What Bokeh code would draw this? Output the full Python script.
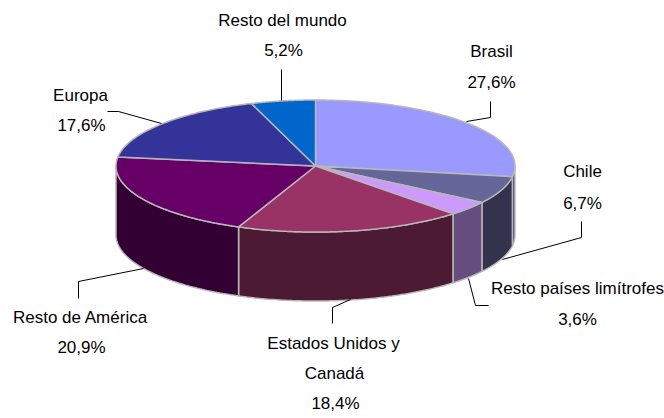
import numpy as np
from bokeh.plotting import figure
from bokeh.models import Range1d
from bokeh.core.properties import value
from bokeh.embed import file_html
from bokeh.resources import INLINE

categories = ["Brasil", "Chile", "Resto países limítrofes", "Estados Unidos y Canadá",
              "Resto de América", "Europa", "Resto del mundo"]
shares = [27.6, 6.7, 3.6, 18.4, 20.9, 17.6, 5.2]
top_colors = ["#9999FF", "#666699", "#CC99FF", "#993366", "#660066", "#333399", "#0066CC"]
side_colors = ["#4D4D80", "#33334D", "#664D80", "#4D1A33", "#330033", "#1A1A4D", "#003366"]

CX, CY, RX, RY, DEPTH = 315.0, 165.5, 199.5, 66.0, 69.0
EDGE = "#B8B8B8"
FONT = "Liberation Sans"
FS = "17px"

W, H = 664, 418
p = figure(width=W, height=H, x_range=Range1d(0, W), y_range=Range1d(H, 0),
           output_backend="svg", toolbar_location=None, min_border=0)
p.axis.visible = False
p.grid.visible = False
p.outline_line_color = None
p.background_fill_color = "white"


def pt(theta):
    return CX + RX * np.sin(theta), CY - RY * np.cos(theta)


bounds = np.cumsum([0] + shares) / 100 * 2 * np.pi

# side wall, only the part of the rim that faces the viewer
for i in range(len(shares)):
    a0 = max(bounds[i], np.pi / 2)
    a1 = min(bounds[i + 1], 3 * np.pi / 2)
    if a1 <= a0:
        continue
    t = np.linspace(a0, a1, 80)
    x, y = pt(t)
    xs = np.concatenate([x, x[::-1]])
    ys = np.concatenate([y, y[::-1] + DEPTH])
    p.patch(xs, ys, fill_color=side_colors[i], line_color=EDGE, line_width=1.5)

# top face
for i in range(len(shares)):
    t = np.linspace(bounds[i], bounds[i + 1], 80)
    x, y = pt(t)
    xs = np.concatenate([[CX], x])
    ys = np.concatenate([[CY], y])
    p.patch(xs, ys, fill_color=top_colors[i], line_color=EDGE, line_width=1.5)

# leader lines
leaders = {
    "Brasil": ([466, 490, 490], [121, 117, 101]),
    "Chile": ([502, 581, 581], [259, 237, 221]),
    "Resto países limítrofes": ([468, 475, 488], [278, 305, 305]),
    "Estados Unidos y Canadá": ([350, 332, 332], [299, 307, 323]),
    "Resto de América": ([143, 78, 78], [268, 281, 298]),
    "Europa": ([161, 118, 107], [123, 111, 111]),
    "Resto del mundo": ([281, 281], [100, 69]),
}
for c in categories:
    lx, ly = leaders[c]
    p.line(lx, ly, line_color="black", line_width=1)

label_pos = {
    "Brasil": [("Brasil", 491, 51), (None, 491, 82)],
    "Chile": [("Chile", 582, 171), (None, 582, 203)],
    "Resto países limítrofes": [("Resto países limítrofes", 577, 288), (None, 577, 319)],
    "Estados Unidos y Canadá": [("Estados Unidos y", 333, 343), ("Canadá", 334, 373), (None, 335, 403)],
    "Resto de América": [("Resto de América", 80, 317), (None, 81, 347)],
    "Europa": [("Europa", 80, 95), (None, 81, 125)],
    "Resto del mundo": [("Resto del mundo", 282, 20), (None, 283, 50)],
}
for c, v in zip(categories, shares):
    for txt, lx, ly in label_pos[c]:
        s = txt if txt else f"{v:.1f}".replace(".", ",") + "%"
        p.text([lx], [ly], text=[s], text_font=value(FONT), text_font_size=value(FS),
               text_color="black", text_align="center", text_baseline="middle")

open("out.html", "w").write(file_html(p, INLINE))
